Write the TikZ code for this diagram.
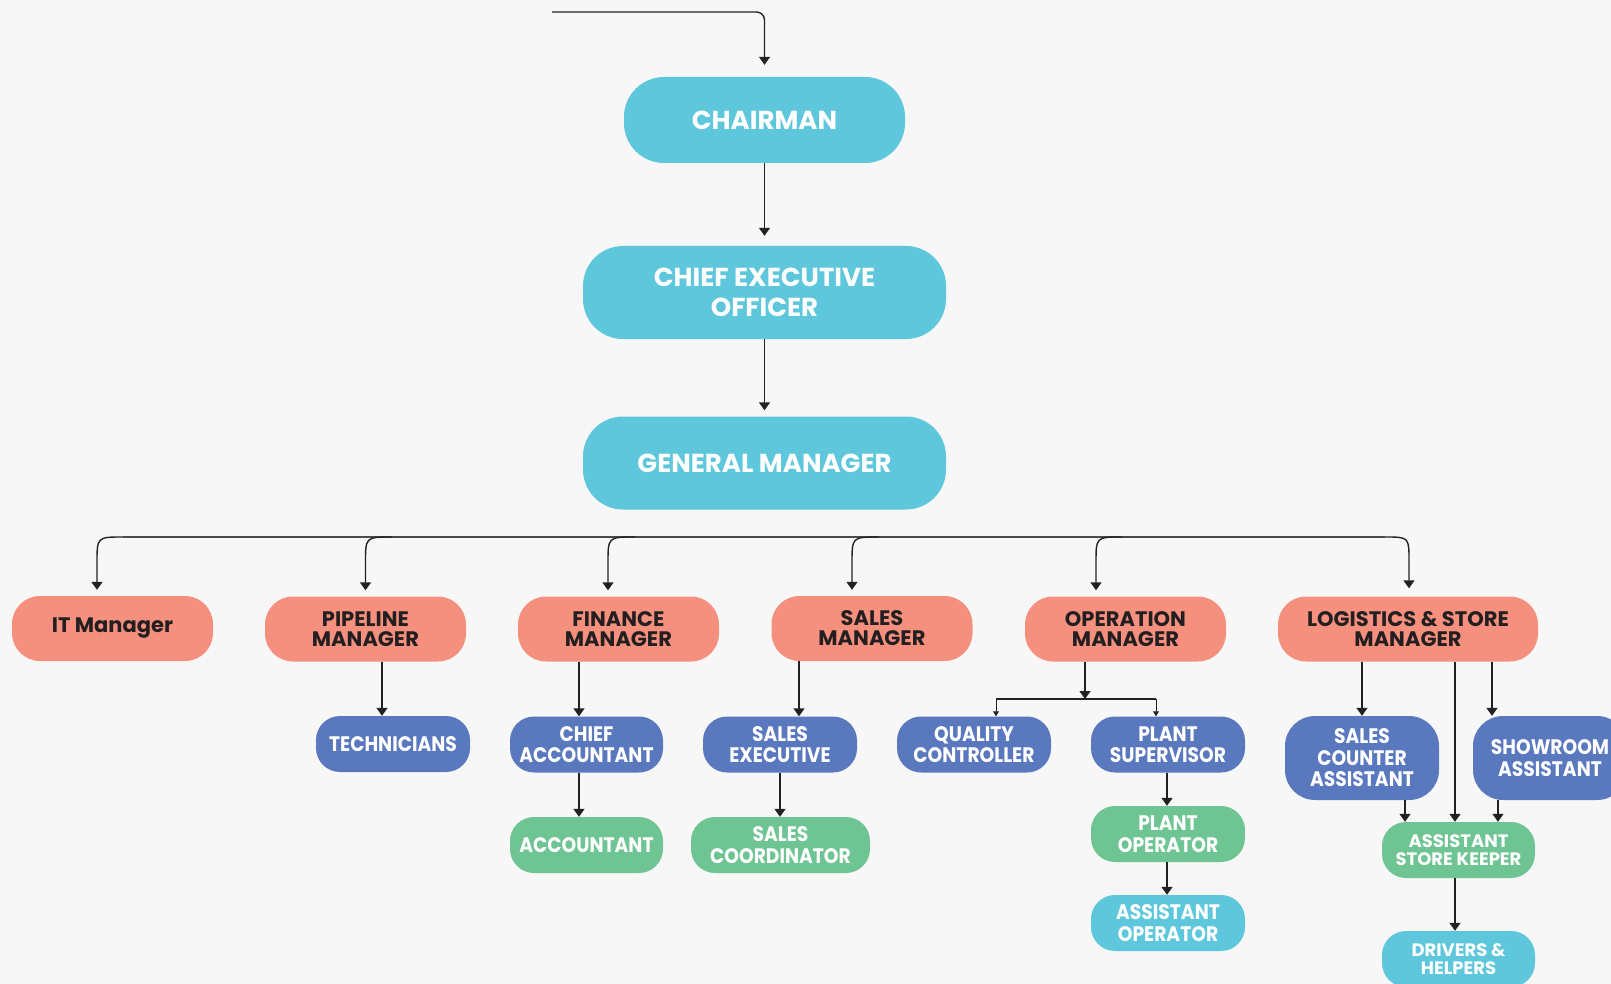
\documentclass[tikz,border=0pt]{standalone}
\usepackage{fontspec}
\setmainfont{Poppins}
\newfontfamily\condfont{Poppins}[FakeStretch=0.89]
\usetikzlibrary{arrows.meta,calc}
\definecolor{bgc}{HTML}{F7F7F7}
\definecolor{cyanc}{HTML}{5FC7DB}
\definecolor{salmc}{HTML}{F6907E}
\definecolor{bluec}{HTML}{5A78BD}
\definecolor{greenc}{HTML}{6FC493}
\definecolor{darkc}{HTML}{231F20}
\definecolor{linec}{HTML}{222222}
\definecolor{busc}{HTML}{4A4A4A}
\begin{document}
\begin{tikzpicture}[x=1pt,y=-1pt,
  box/.style={rectangle, inner sep=0pt, align=center},
  bigbox/.style={box, fill=cyanc, text=white, rounded corners=40pt,
    font=\fontsize{26}{30}\selectfont\bfseries},
  mgr/.style={box, fill=salmc, text=darkc, rounded corners=28pt,
    minimum width=201pt, minimum height=65pt,
    font=\fontsize{21}{20}\selectfont\bfseries},
  sub/.style={box, text=white, rounded corners=24pt,
    minimum width=154pt, minimum height=56pt,
    font=\condfont\fontsize{21}{21.5}\selectfont\bfseries},
  small/.style={sub, font=\fontsize{18}{18}\selectfont\bfseries},
  conn/.style={draw=linec, line width=1.4pt, -{Triangle[width=11pt,length=8pt]}},
  tinyconn/.style={draw=linec, line width=1pt, -{Triangle[width=6pt,length=5pt]}},
  plain/.style={draw=linec, line width=1.2pt},
  bus/.style={draw=busc, line width=1.6pt}
]
\useasboundingbox (0,0) rectangle (1611,984);
\fill[bgc] (0,0) rectangle (1611,984);
\clip (0,0) rectangle (1611,984);

% top levels
\node[bigbox, minimum width=281pt, minimum height=86pt] (chair) at (764.5,120) {CHAIRMAN};
\node[bigbox, minimum width=363pt, minimum height=93pt] (ceo) at (764.5,292.5) {CHIEF EXECUTIVE\\OFFICER};
\node[bigbox, minimum width=363pt, minimum height=93pt] (gm) at (764.5,463) {GENERAL MANAGER};

% managers
\node[mgr] (itm) at (112.5,628.5) {IT Manager};
\node[mgr] (pipe) at (365.5,629) {PIPELINE\\MANAGER};
\node[mgr] (fin) at (618.5,629) {FINANCE\\MANAGER};
\node[mgr] (sales) at (872,628.5) {SALES\\MANAGER};
\node[mgr] (oper) at (1125.5,629) {OPERATION\\MANAGER};
\node[mgr, minimum width=260pt] (logi) at (1408,629) {LOGISTICS \& STORE\\MANAGER};

% level 3
\node[sub, fill=bluec] (tech) at (393,744) {TECHNICIANS};
\node[sub, fill=bluec, minimum width=153pt] (chiefacc) at (586.5,744.5) {CHIEF\\ACCOUNTANT};
\node[sub, fill=greenc, minimum width=153pt] (acct) at (586.5,845) {ACCOUNTANT};
\node[sub, fill=bluec] (sexec) at (780,744.5) {SALES\\EXECUTIVE};
\node[sub, fill=greenc, minimum width=179pt] (scoord) at (780.5,845) {SALES\\COORDINATOR};
\node[sub, fill=bluec] (qc) at (974,744.5) {QUALITY\\CONTROLLER};
\node[sub, fill=bluec] (ps) at (1168,744.5) {PLANT\\SUPERVISOR};
\node[sub, fill=greenc] (po) at (1168,834) {PLANT\\OPERATOR};
\node[sub, fill=cyanc] (ao) at (1168,923) {ASSISTANT\\OPERATOR};
\node[sub, fill=bluec, minimum height=84pt, rounded corners=30pt] (sca) at (1362,758) {SALES\\COUNTER\\ASSISTANT};
\node[sub, fill=bluec, minimum height=84pt, rounded corners=30pt] (show) at (1550,758) {SHOWROOM\\ASSISTANT};
\node[small, fill=greenc, minimum width=153pt] (ask) at (1458.5,850) {ASSISTANT\\STORE KEEPER};
\node[small, fill=cyanc, minimum width=153pt] (drv) at (1458.5,959) {DRIVERS \&\\HELPERS};

% top connectors
\coordinate (topstart) at (552,12);
\draw[conn, rounded corners=8pt, shorten >=12pt] (topstart) -| (chair.north);
\draw[conn, shorten >=10pt] (chair.south) -- (ceo.north);
\draw[conn, shorten >=6pt] (ceo.south) -- (gm.north);

% bus
\coordinate (busL) at (123,537);
\coordinate (busR) at (1385,537);
\draw[bus] (busL) -- (busR);
\coordinate (bPI) at (392,537);
\coordinate (bFI) at (635,537);
\coordinate (bSA) at (879,537);
\coordinate (bOP) at (1122,537);
\coordinate (dIT) at (97,563);
\coordinate (dPI) at (365.5,563);
\coordinate (dFI) at (608,563);
\coordinate (dSA) at (852,563);
\coordinate (dOP) at (1096,563);
\coordinate (dLG) at (1409,561);
\draw[conn, shorten >=6pt] (busL) .. controls (dIT |- busL) .. (dIT) -- (dIT |- itm.north);
\draw[conn, shorten >=6pt] (bPI) .. controls (dPI |- bPI) .. (dPI) -- (dPI |- pipe.north);
\draw[conn, shorten >=6pt] (bFI) .. controls (dFI |- bFI) .. (dFI) -- (dFI |- fin.north);
\draw[conn, shorten >=6pt] (bSA) .. controls (dSA |- bSA) .. (dSA) -- (dSA |- sales.north);
\draw[conn, shorten >=6pt] (bOP) .. controls (dOP |- bOP) .. (dOP) -- (dOP |- oper.north);
\draw[conn, shorten >=8pt] (busR) .. controls (dLG |- busR) .. (dLG) -- (dLG |- logi.north);

% level 2 connectors
\coordinate (xPT) at (382,0);
\coordinate (xFC) at (579,0);
\coordinate (xSE) at (799,0);
\coordinate (xSC) at (780,0);
\coordinate (xPS) at (1167,0);
\coordinate (xLS) at (1362,0);
\coordinate (xLA) at (1455,0);
\coordinate (xLW) at (1492,0);
\coordinate (xSK) at (1405,0);
\coordinate (xWK) at (1498,0);
\draw[conn] (pipe.south -| xPT) -- (tech.north -| xPT);
\draw[conn] (fin.south -| xFC) -- (chiefacc.north -| xFC);
\draw[conn] (chiefacc.south -| xFC) -- (acct.north -| xFC);
\draw[conn] (sales.south -| xSE) -- (sexec.north -| xSE);
\draw[conn] (sexec.south -| xSC) -- (scoord.north -| xSC);
\draw[conn] (ps.south -| xPS) -- (po.north -| xPS);
\draw[conn] (po.south -| xPS) -- (ao.north -| xPS);
\draw[conn] (logi.south -| xLS) -- (sca.north -| xLS);
\draw[conn] (logi.south -| xLA) -- (ask.north -| xLA);
\draw[conn] (logi.south -| xLW) -- (show.north -| xLW);
\draw[conn] (sca.south -| xSK) -- (ask.north -| xSK);
\draw[conn] (show.south -| xWK) -- (ask.north -| xWK);
\draw[conn] (ask.south -| xLA) -- (drv.north -| xLA);

% operation junction
\coordinate (jn) at (1085,699);
\coordinate (jq) at (996,699);
\coordinate (jp) at (1156,699);
\draw[conn] (oper.south -| jn) -- (jn);
\draw[plain] (jq) -- (jp);
\draw[tinyconn] (jq) -- (qc.north -| jq);
\draw[tinyconn] (jp) -- (ps.north -| jp);
\end{tikzpicture}
\end{document}
